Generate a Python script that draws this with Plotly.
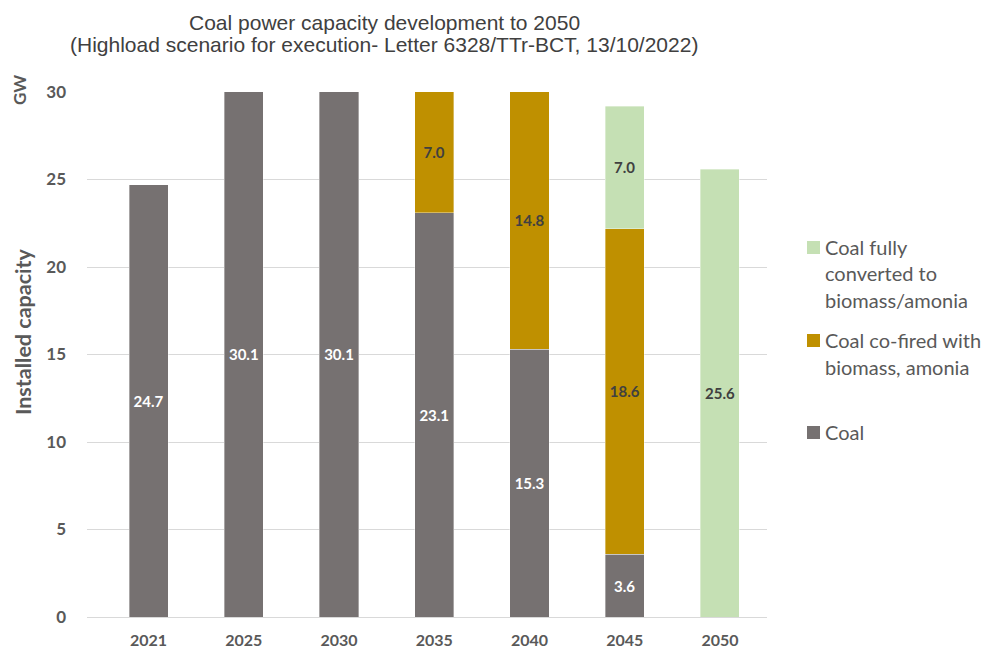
import plotly.graph_objects as go

years = ["2021", "2025", "2030", "2035", "2040", "2045", "2050"]
coal = [24.7, 30.1, 30.1, 23.1, 15.3, 3.6, None]
cofired = [None, None, None, 7.0, 14.8, 18.6, None]
converted = [None, None, None, None, None, 7.0, 25.6]

series_names = ["Coal", "Coal co-fired with biomass, amonia", "Coal fully converted to biomass/amonia"]
colors = ["#767171", "#BF9000", "#C5E0B4"]
label_colors = ["#FFFFFF", "#404040", "#404040"]

title_lines = [
    "Coal power capacity development to 2050",
    "(Highload scenario for execution- Letter 6328/TTr-BCT, 13/10/2022)",
]

W, H = 982, 651
L, R, T, B = 87, 215, 92, 34

fig = go.Figure()
for name, vals, col, tcol in zip(series_names, [coal, cofired, converted], colors, label_colors):
    fig.add_trace(go.Bar(
        x=years, y=vals, name=name,
        marker=dict(color=col, line=dict(color="rgba(255,255,255,0.6)", width=0.6)),
        width=0.41,
        texttemplate="%{y:.1f}", textposition="inside", insidetextanchor="middle",
        textfont=dict(family="Lato", size=15, color=tcol, weight="bold"),
        constraintext="none", cliponaxis=True, showlegend=False,
    ))

fig.update_layout(
    width=W, height=H, barmode="stack",
    margin=dict(l=L, r=R, t=T, b=B, autoexpand=False),
    paper_bgcolor="white", plot_bgcolor="white",
    font=dict(family="Lato", color="#595959"),
    xaxis=dict(
        type="category", range=[-0.646, 6.494], showgrid=False,
        showline=False, ticks="", automargin=False,
        tickfont=dict(family="Lato", size=16, color="#595959", weight="bold"),
        ticklabelstandoff=12,
    ),
    yaxis=dict(
        range=[0, 30], tickvals=[0, 5, 10, 15, 20, 25, 30],
        showgrid=True, gridcolor="#D9D9D9", gridwidth=1,
        zeroline=True, zerolinecolor="#D9D9D9", zerolinewidth=1,
        showline=False, ticks="", automargin=False,
        tickfont=dict(family="Lato", size=17, color="#595959", weight="bold"),
        ticklabelstandoff=20,
    ),
)

pw = W - L - R
ph = H - T - B
def px_to_paper(xp, yp):
    return (xp - L) / pw, (H - B - yp) / ph

# two-line chart title
for line, yc in zip(title_lines, [22, 45]):
    tx, ty = px_to_paper(384, yc)
    fig.add_annotation(text=line, xref="paper", yref="paper", x=tx, y=ty,
                       xanchor="center", yanchor="middle", showarrow=False,
                       font=dict(family="Liberation Sans", size=21, color="#404040"))

# y-axis titles
tx, ty = px_to_paper(23, 332)
fig.add_annotation(text="Installed capacity", xref="paper", yref="paper",
                   x=tx, y=ty, textangle=-90, showarrow=False,
                   xanchor="center", yanchor="middle",
                   font=dict(family="Lato", size=21.5, color="#595959", weight="bold"))
tx, ty = px_to_paper(19, 90)
fig.add_annotation(text="GW", xref="paper", yref="paper",
                   x=tx, y=ty, textangle=-90, showarrow=False,
                   xanchor="center", yanchor="middle",
                   font=dict(family="Lato", size=17, color="#595959", weight="bold"))

# legend drawn as squares + text lines on the right
legend_items = [
    (["Coal fully", "converted to", "biomass/amonia"], colors[2], [247, 273, 300]),
    (["Coal co-fired with", "biomass, amonia"], colors[1], [340, 367]),
    (["Coal"], colors[0], [432]),
]
for lines, col, ys in legend_items:
    x0, y0 = px_to_paper(807, ys[0] - 6)
    x1, y1 = px_to_paper(820, ys[0] + 7)
    fig.add_shape(type="rect", xref="paper", yref="paper", x0=x0, x1=x1, y0=y0, y1=y1,
                  fillcolor=col, line=dict(width=0))
    for line, yc in zip(lines, ys):
        tx, ty = px_to_paper(823, yc)
        fig.add_annotation(text=line, xref="paper", yref="paper", x=tx, y=ty,
                           xanchor="left", yanchor="middle", align="left", showarrow=False,
                           font=dict(family="Lato", size=20, color="#595959"))

fig.write_html("out.html")
